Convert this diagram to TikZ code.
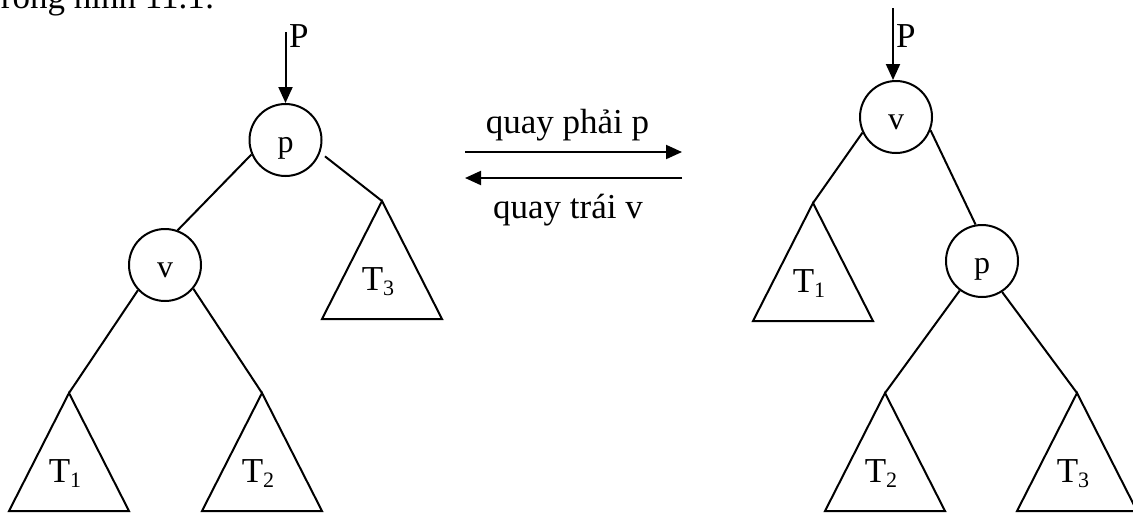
\documentclass[tikz,border=0pt]{standalone}
\usepackage{fontspec}
\setmainfont{Liberation Serif}
\usetikzlibrary{arrows.meta}
\newcommand\idx[1]{\raisebox{-2.5pt}{\fontsize{11pt}{11pt}\selectfont #1}}
\newcommand\subtree[4]{\coordinate (#1) at (#2,#3);
 \draw[line join=miter] (#1) -- ++(-60,118) -- ++(120,0) -- cycle;
 \node[lbl,anchor=base] (#1l) at (#2-4,#3+89) {T\idx{#4}};}
\begin{document}
\begin{tikzpicture}[x=0.5pt,y=-0.5pt,>={Triangle[length=8pt,width=7pt]},line width=1pt,
 knot/.style={draw,circle,minimum size=36pt,inner sep=0pt,text height=12pt,text depth=0pt,
  font=\fontsize{16pt}{16pt}\selectfont},
 lbl/.style={inner sep=0pt,font=\fontsize{17.5pt}{17.5pt}\selectfont}]
\useasboundingbox (0,0) rectangle (1133,515);
\clip (0,0) rectangle (1133,515);
\node[lbl,anchor=base west] (cap) at (0,8) {rong hình 11.1:};
% left tree
\node[knot] (lp) at (285.5,140) {p};
\node[knot] (lv) at (165,265) {v};
\subtree{lt1}{69}{393}{1}
\subtree{lt2}{262}{393}{2}
\subtree{lt3}{382}{201}{3}
\coordinate (lPtop) at (285.5,32);
\draw[->] (lPtop) -- (lPtop |- lp.north);
\node[lbl,anchor=base west] (lPl) at (288,47) {P};
\draw (lp.203) -- (lv.70);
\draw[shorten <=3pt] (lp.340) -- (lt3);
\draw (lv.223) -- (lt1);
\draw (lv.320) -- (lt2);
% rotations
\coordinate (ra) at (465,152);
\coordinate (rb) at (682,152);
\coordinate (la) at (682,178);
\coordinate (lb) at (465,178);
\draw[->] (ra) -- (rb);
\draw[->] (la) -- (lb);
\node[lbl,anchor=base] (rotr) at (567.5,133) {quay phải p};
\node[lbl,anchor=base] (rotl) at (568,218) {quay trái v};
% right tree
\node[knot] (rv) at (896,117) {v};
\node[knot] (rp) at (982,261) {p};
\subtree{rt1}{813}{203}{1}
\subtree{rt2}{885}{393}{2}
\subtree{rt3}{1077}{393}{3}
\coordinate (rPtop) at (893,8);
\draw[->] (rPtop) -- (rPtop |- rv.north);
\node[lbl,anchor=base west] (rPl) at (895,47) {P};
\draw (rv.205) -- (rt1);
\draw (rv.339) -- (rp.100);
\draw (rp.233) -- (rt2);
\draw (rp.303) -- (rt3);
\end{tikzpicture}
\end{document}
